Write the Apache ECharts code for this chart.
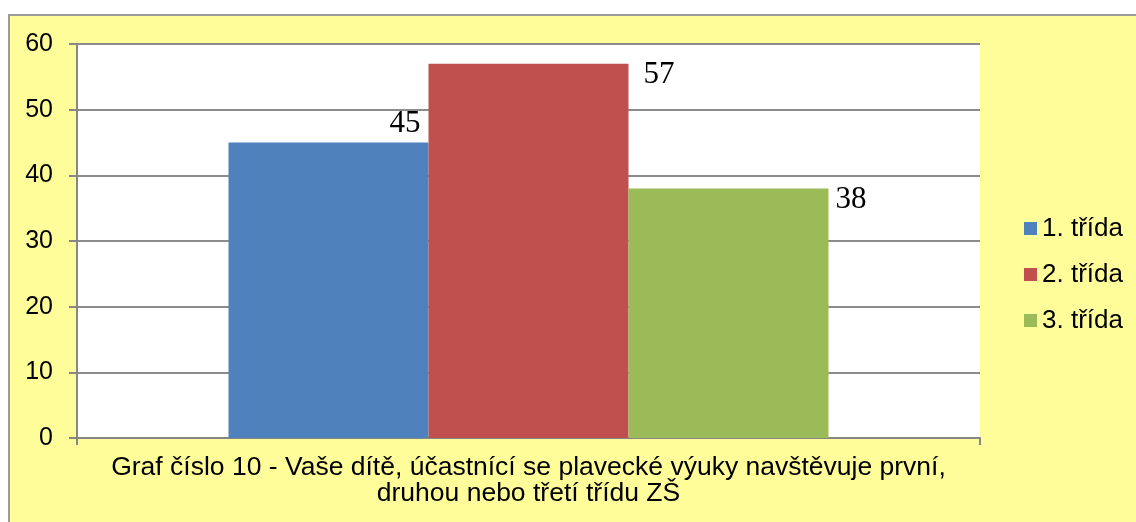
<!DOCTYPE html>
<html>
<head>
<meta charset="utf-8">
<script src="https://cdn.jsdelivr.net/npm/echarts@6/dist/echarts.min.js"></script>
<style>
  body { margin: 0; background: #fff; }
  #main {
    position: absolute; left: 8px; top: 14px;
    width: 1128px; height: 508px;
    background: #FFFD99;
    border-top: 2px solid #9a9a9a;
    border-left: 2px solid #9a9a9a;
  }
</style>
</head>
<body>
<div id="main"></div>
<script>
// data
const categories = ['']
const seriesNames = ['1. třída', '2. třída', '3. třída']
const seriesValues = [[45], [57], [38]]
const yTicks = { min: 0, max: 60, interval: 10 }
const axisTitle = 'Graf číslo 10 - Vaše dítě, účastnící se plavecké výuky navštěvuje první,\ndruhou nebo třetí třídu ZŠ'

const colors = ['#4F81BD', '#C0504D', '#9BBB59']

// label placement per bar (excel puts them a bit oddly)
const labelStyles = [
  { position: ['100%', 0], align: 'right', verticalAlign: 'bottom', offset: [-8, -3] },
  { position: ['100%', 0], align: 'left', verticalAlign: 'top', offset: [15, -4] },
  { position: ['100%', 0], align: 'left', verticalAlign: 'top', offset: [7, -4] }
]

let chart = echarts.init(document.getElementById('main'))

let option = {
  animation: false,
  grid: { left: 67, top: 28, right: 158, bottom: 86, show: true, backgroundColor: '#fff', borderWidth: 0 },
  legend: {
    orient: 'vertical',
    left: 1009,
    top: 194,
    icon: 'rect',
    itemWidth: 13,
    itemHeight: 13,
    itemGap: 19,
    textStyle: { fontFamily: 'Liberation Sans', fontSize: 26, color: '#000', lineHeight: 27 },
    data: seriesNames
  },
  xAxis: {
    type: 'category',
    data: categories,
    name: axisTitle,
    nameLocation: 'middle',
    nameGap: 17,
    nameTextStyle: { fontFamily: 'Liberation Sans', fontSize: 26.5, color: '#000', lineHeight: 26, align: 'center', verticalAlign: 'top' },
    axisLine: { lineStyle: { color: '#868686', width: 2 } },
    axisTick: { show: true, length: 7, lineStyle: { color: '#868686', width: 2 } },
    axisLabel: { show: false }
  },
  yAxis: {
    type: 'value',
    min: yTicks.min,
    max: yTicks.max,
    interval: yTicks.interval,
    axisLine: { show: true, lineStyle: { color: '#868686', width: 2 } },
    axisTick: { show: true, length: 8, lineStyle: { color: '#868686', width: 2 } },
    axisLabel: { fontFamily: 'Liberation Sans', fontSize: 25, color: '#000', margin: 24 },
    splitLine: { lineStyle: { color: '#8c8c8c', width: 2 } }
  },
  series: seriesNames.map((name, i) => ({
    name: name,
    type: 'bar',
    data: seriesValues[i],
    barWidth: 200,
    barGap: '0%',
    itemStyle: { color: colors[i] },
    label: Object.assign({
      show: true,
      fontFamily: 'Liberation Serif',
      fontSize: 31,
      color: '#000'
    }, labelStyles[i])
  }))
}

chart.setOption(option)
</script>
</body>
</html>
